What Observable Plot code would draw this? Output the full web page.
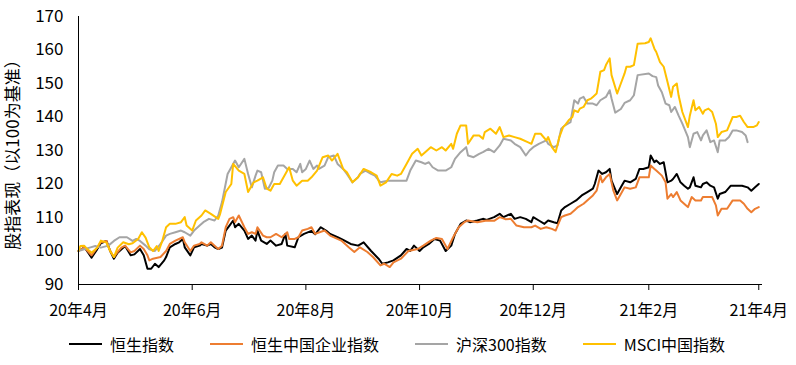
<!DOCTYPE html>
<html><head><meta charset="utf-8">
<script src="https://cdn.jsdelivr.net/npm/d3@7"></script>
<script src="https://cdn.jsdelivr.net/npm/@observablehq/plot@0.6"></script>
<style>
body{margin:0;background:#fff;font-family:"Noto Sans CJK SC","Noto Sans",sans-serif;}
#legend{position:relative;height:38px;display:flex;align-items:center;padding-left:69px;gap:36px;font-size:16px;color:#000;}
.item{display:flex;align-items:center;gap:8px;}
.sw{width:33px;height:0;border-top:2.5px solid #000;}
</style></head>
<body><div id="chart"></div><div id="legend"></div>
<script>
const seriesNames = ["恒生指数","恒生中国企业指数","沪深300指数","MSCI中国指数"];
const seriesColors = ["#000000","#ED7D31","#A5A5A5","#FFC000"];
const yTitle = "股指表现（以100为基准）";
const xTicks = ["2020-04-15","2020-06-15","2020-08-15","2020-10-15","2020-12-15","2021-02-15","2021-04-15"];
const yTicks = [90,100,110,120,130,140,150,160,170];

const hsi = [["2020-04-15",100],["2020-04-18",101],["2020-04-19",100.5],["2020-04-22",98],["2020-04-25",100.5],["2020-04-27",102.3],["2020-04-30",103],["2020-05-02",100],["2020-05-04",97.7],["2020-05-06",99.5],["2020-05-10",101.5],["2020-05-13",98.7],["2020-05-15",99],["2020-05-18",100.6],["2020-05-20",98.7],["2020-05-22",94.7],["2020-05-24",94.7],["2020-05-26",96.2],["2020-05-28",95.2],["2020-05-31",97.2],["2020-06-01",98.2],["2020-06-03",101.1],["2020-06-06",102.1],["2020-06-08",102.6],["2020-06-10",103.6],["2020-06-11",101.1],["2020-06-14",98.7],["2020-06-16",101.1],["2020-06-19",101.6],["2020-06-20",102.1],["2020-06-23",101.6],["2020-06-25",102.1],["2020-06-27",101.1],["2020-06-29",100.6],["2020-07-01",101],["2020-07-03",106.1],["2020-07-05",107.6],["2020-07-07",109.1],["2020-07-08",107.1],["2020-07-10",108.1],["2020-07-13",106.1],["2020-07-15",103.6],["2020-07-17",104.6],["2020-07-19",103.1],["2020-07-20",106.1],["2020-07-22",103.1],["2020-07-25",102.1],["2020-07-27",103.1],["2020-07-30",101.6],["2020-08-02",102.1],["2020-08-04",105.1],["2020-08-05",101.6],["2020-08-09",101.1],["2020-08-11",104.1],["2020-08-14",105.1],["2020-08-18",106],["2020-08-20",105],["2020-08-23",107.1],["2020-08-26",106],["2020-08-28",105.1],["2020-09-01",104.1],["2020-09-04",103.3],["2020-09-08",102.1],["2020-09-12",101.6],["2020-09-15",102.6],["2020-09-19",100],["2020-09-23",97.7],["2020-09-25",96.2],["2020-09-28",96.6],["2020-10-01",97.2],["2020-10-05",98.7],["2020-10-08",100.6],["2020-10-10",100],["2020-10-12",101.6],["2020-10-15",100],["2020-10-17",101.1],["2020-10-20",102.1],["2020-10-23",103.6],["2020-10-26",103.1],["2020-10-29",100],["2020-11-01",101.6],["2020-11-03",105.1],["2020-11-06",108.1],["2020-11-09",109.1],["2020-11-11",108.6],["2020-11-15",109.1],["2020-11-18",109.6],["2020-11-20",109.3],["2020-11-24",110.1],["2020-11-27",111.1],["2020-11-29",110.1],["2020-12-03",111.1],["2020-12-05",109.6],["2020-12-08",110.1],["2020-12-11",109.6],["2020-12-14",108.6],["2020-12-15",110.1],["2020-12-18",109.1],["2020-12-21",108.1],["2020-12-23",109.1],["2020-12-26",108.6],["2020-12-28",108.3],["2020-12-30",112.1],["2021-01-01",113.1],["2021-01-04",114.1],["2021-01-07",115.1],["2021-01-10",116.6],["2021-01-13",117.6],["2021-01-16",118.6],["2021-01-17",120],["2021-01-19",124],["2021-01-21",123],["2021-01-23",123.5],["2021-01-25",124.5],["2021-01-26",121],["2021-01-29",117],["2021-01-31",119],["2021-02-02",121],["2021-02-05",120.5],["2021-02-08",121.5],["2021-02-10",124.5],["2021-02-12",124.5],["2021-02-15",125],["2021-02-16",128.5],["2021-02-18",126.5],["2021-02-19",127],["2021-02-21",126],["2021-02-23",126.5],["2021-02-25",120.5],["2021-02-27",121],["2021-02-28",121.5],["2021-03-02",123],["2021-03-04",120.5],["2021-03-06",119.5],["2021-03-08",118.6],["2021-03-09",119],["2021-03-11",122],["2021-03-12",119.5],["2021-03-15",119],["2021-03-16",120],["2021-03-18",120.5],["2021-03-20",119.5],["2021-03-22",119],["2021-03-24",115.6],["2021-03-25",117],["2021-03-28",117.6],["2021-03-31",119.5],["2021-04-03",119.5],["2021-04-06",119.5],["2021-04-09",119],["2021-04-11",118],["2021-04-13",119],["2021-04-15",120]];

const hscei = [["2020-04-15",100],["2020-04-18",101],["2020-04-19",100.5],["2020-04-22",98.7],["2020-04-25",101],["2020-04-27",102.6],["2020-04-30",103],["2020-05-02",100],["2020-05-04",98.2],["2020-05-06",99.7],["2020-05-08",101],["2020-05-10",101.6],["2020-05-13",99.6],["2020-05-15",100],["2020-05-18",101.6],["2020-05-20",100.6],["2020-05-22",98.7],["2020-05-23",97.2],["2020-05-25",97.7],["2020-05-29",98.2],["2020-06-01",100],["2020-06-03",102.1],["2020-06-06",103.1],["2020-06-10",104.1],["2020-06-11",102.6],["2020-06-14",100],["2020-06-16",101.6],["2020-06-19",102.1],["2020-06-20",102.6],["2020-06-23",101.6],["2020-06-25",102.6],["2020-06-27",101.6],["2020-06-29",100.6],["2020-07-01",101.6],["2020-07-03",107.1],["2020-07-05",109.6],["2020-07-07",110.1],["2020-07-08",108.6],["2020-07-10",110.6],["2020-07-13",107.1],["2020-07-15",105.1],["2020-07-17",105.6],["2020-07-19",105.1],["2020-07-20",107.1],["2020-07-23",104.6],["2020-07-25",104.1],["2020-07-27",104.1],["2020-07-30",105.1],["2020-08-02",104.1],["2020-08-05",105.6],["2020-08-06",103.6],["2020-08-09",103.6],["2020-08-11",104.1],["2020-08-13",106.1],["2020-08-16",106.6],["2020-08-18",107.1],["2020-08-20",105.1],["2020-08-25",106.1],["2020-08-28",104.6],["2020-09-03",103.1],["2020-09-07",101.1],["2020-09-10",99.7],["2020-09-13",101.1],["2020-09-17",99.7],["2020-09-20",98.2],["2020-09-24",95.7],["2020-09-26",96.2],["2020-09-29",95.2],["2020-10-01",96.6],["2020-10-05",97.7],["2020-10-09",100],["2020-10-14",100.6],["2020-10-17",101.6],["2020-10-21",103.1],["2020-10-24",103.9],["2020-10-27",103.6],["2020-10-30",100.6],["2020-11-02",104.1],["2020-11-05",107.1],["2020-11-08",108.6],["2020-11-10",109.1],["2020-11-15",108.6],["2020-11-20",109.1],["2020-11-24",109],["2020-11-27",110.1],["2020-11-30",109.5],["2020-12-03",109.6],["2020-12-06",107.6],["2020-12-10",107.1],["2020-12-14",107.1],["2020-12-16",107.6],["2020-12-19",106.6],["2020-12-22",107.1],["2020-12-25",106.6],["2020-12-27",106.1],["2020-12-30",110.1],["2021-01-01",110.6],["2021-01-04",111.1],["2021-01-06",112.1],["2021-01-08",113.1],["2021-01-11",114.1],["2021-01-14",115.6],["2021-01-16",116.6],["2021-01-18",118],["2021-01-20",122.5],["2021-01-21",120.5],["2021-01-23",122],["2021-01-25",123],["2021-01-27",118],["2021-01-29",115.1],["2021-01-31",117],["2021-02-02",119],["2021-02-05",118.6],["2021-02-08",119],["2021-02-10",122],["2021-02-15",122],["2021-02-16",125.5],["2021-02-18",124.5],["2021-02-19",124],["2021-02-22",122.5],["2021-02-24",120.5],["2021-02-25",115.6],["2021-02-27",117],["2021-02-28",116.1],["2021-03-02",117.6],["2021-03-04",115.1],["2021-03-07",113.6],["2021-03-08",113.1],["2021-03-10",116.1],["2021-03-12",115.1],["2021-03-15",115.1],["2021-03-16",116.1],["2021-03-21",116.1],["2021-03-23",113.6],["2021-03-24",110.6],["2021-03-26",112.6],["2021-03-29",112.6],["2021-04-01",115.1],["2021-04-05",115.1],["2021-04-07",114.1],["2021-04-09",112.6],["2021-04-11",111.6],["2021-04-13",112.6],["2021-04-15",113.1]];

const csi300 = [["2020-04-15",100],["2020-04-18",100.5],["2020-04-21",101],["2020-04-24",101.5],["2020-04-27",101],["2020-05-01",101.6],["2020-05-04",103],["2020-05-07",104.1],["2020-05-11",104.1],["2020-05-14",103],["2020-05-16",103.6],["2020-05-18",103],["2020-05-21",101.6],["2020-05-23",100.5],["2020-05-26",100],["2020-05-29",102.1],["2020-06-01",104.6],["2020-06-03",105.1],["2020-06-06",105.6],["2020-06-09",106.1],["2020-06-11",105.6],["2020-06-14",104.6],["2020-06-16",106.1],["2020-06-19",107.6],["2020-06-21",108.6],["2020-06-24",109.6],["2020-06-27",109.1],["2020-06-29",110.6],["2020-07-01",114.6],["2020-07-04",123],["2020-07-06",125],["2020-07-08",127],["2020-07-10",125],["2020-07-13",127.5],["2020-07-15",123],["2020-07-17",119],["2020-07-19",122.5],["2020-07-20",124],["2020-07-22",123.5],["2020-07-24",118.6],["2020-07-26",118.8],["2020-07-28",121],["2020-07-29",123.5],["2020-07-31",125.5],["2020-08-03",125.5],["2020-08-05",124.5],["2020-08-08",124.5],["2020-08-10",123.5],["2020-08-12",126],["2020-08-13",123.5],["2020-08-15",124.5],["2020-08-17",127],["2020-08-19",124.5],["2020-08-21",125.5],["2020-08-22",124.5],["2020-08-25",125.5],["2020-08-27",128],["2020-08-30",128.5],["2020-09-01",126],["2020-09-04",124.5],["2020-09-06",123],["2020-09-09",120.5],["2020-09-12",122],["2020-09-13",123],["2020-09-16",124],["2020-09-19",123],["2020-09-21",122.5],["2020-09-24",120.5],["2020-09-28",121],["2020-10-08",121],["2020-10-10",124],["2020-10-13",127],["2020-10-16",126.5],["2020-10-18",126],["2020-10-20",126.5],["2020-10-22",125],["2020-10-25",124],["2020-10-29",124],["2020-11-01",125],["2020-11-03",127.5],["2020-11-06",129.5],["2020-11-09",131],["2020-11-10",128.5],["2020-11-13",128],["2020-11-16",129],["2020-11-18",129.5],["2020-11-21",130.5],["2020-11-24",129.5],["2020-11-27",131.5],["2020-11-29",133.5],["2020-12-03",133],["2020-12-05",132],["2020-12-08",131],["2020-12-11",128.5],["2020-12-13",130],["2020-12-15",131],["2020-12-18",132],["2020-12-22",133],["2020-12-23",132],["2020-12-26",131],["2020-12-28",131.5],["2020-12-30",136.5],["2021-01-01",137.5],["2021-01-04",138.5],["2021-01-06",145],["2021-01-08",144],["2021-01-09",145.5],["2021-01-11",146],["2021-01-13",144],["2021-01-16",144],["2021-01-18",143.5],["2021-01-20",145],["2021-01-23",146],["2021-01-25",148],["2021-01-26",145.5],["2021-01-28",141.3],["2021-01-31",142.4],["2021-02-02",144.2],["2021-02-05",145],["2021-02-07",146.5],["2021-02-09",152.5],["2021-02-15",153],["2021-02-17",152.2],["2021-02-19",151.9],["2021-02-20",149.4],["2021-02-22",147.4],["2021-02-24",144],["2021-02-26",143.5],["2021-02-27",141.5],["2021-03-01",143],["2021-03-03",140.4],["2021-03-05",138],["2021-03-08",134],["2021-03-09",131],["2021-03-11",135],["2021-03-13",135.5],["2021-03-15",133],["2021-03-16",134.5],["2021-03-18",136],["2021-03-20",132.5],["2021-03-22",133],["2021-03-24",129.5],["2021-03-25",133],["2021-03-28",133],["2021-03-30",134],["2021-04-01",136],["2021-04-03",136],["2021-04-06",135.5],["2021-04-08",134.5],["2021-04-09",132.5]];

const msci = [["2020-04-15",100],["2020-04-16",101.5],["2020-04-18",101.6],["2020-04-19",101],["2020-04-22",99.5],["2020-04-25",101],["2020-04-27",103.1],["2020-04-30",102.5],["2020-05-02",100],["2020-05-04",98.2],["2020-05-06",101],["2020-05-09",102.6],["2020-05-12",102],["2020-05-14",102.3],["2020-05-17",103.6],["2020-05-19",105.6],["2020-05-21",104],["2020-05-23",101.1],["2020-05-25",100],["2020-05-27",101.5],["2020-05-28",100],["2020-05-30",103.1],["2020-06-01",107.1],["2020-06-03",108.1],["2020-06-06",108.1],["2020-06-09",108.6],["2020-06-11",110.1],["2020-06-12",107.6],["2020-06-15",106.1],["2020-06-17",109.1],["2020-06-20",110.6],["2020-06-22",112.1],["2020-06-25",111.1],["2020-06-29",109.6],["2020-06-30",111.1],["2020-07-03",117.6],["2020-07-06",120],["2020-07-07",126],["2020-07-10",124],["2020-07-13",123],["2020-07-15",117.6],["2020-07-18",120.5],["2020-07-20",121],["2020-07-23",122],["2020-07-25",118.6],["2020-07-27",118],["2020-07-29",120],["2020-08-01",120],["2020-08-04",123],["2020-08-06",125],["2020-08-08",121],["2020-08-10",119.5],["2020-08-13",121],["2020-08-16",121],["2020-08-18",122],["2020-08-21",124],["2020-08-24",128],["2020-08-27",128.5],["2020-08-29",127],["2020-09-01",129],["2020-09-04",124.5],["2020-09-06",123.5],["2020-09-09",120.5],["2020-09-12",122],["2020-09-15",124.5],["2020-09-19",123.5],["2020-09-22",122.5],["2020-09-24",119.5],["2020-09-27",120.5],["2020-09-30",123],["2020-10-03",122.5],["2020-10-05",123],["2020-10-08",126],["2020-10-11",129],["2020-10-14",130.5],["2020-10-16",128.5],["2020-10-18",129.5],["2020-10-21",131],["2020-10-24",130],["2020-10-27",131],["2020-10-29",130],["2020-11-01",132],["2020-11-02",130.5],["2020-11-04",135],["2020-11-06",137.5],["2020-11-09",137.5],["2020-11-10",132],["2020-11-13",134.5],["2020-11-16",134.5],["2020-11-18",133.5],["2020-11-19",135.5],["2020-11-22",136.5],["2020-11-25",135],["2020-11-27",137],["2020-11-29",134],["2020-12-02",134.5],["2020-12-05",134],["2020-12-08",133.5],["2020-12-12",132.5],["2020-12-14",132],["2020-12-16",135],["2020-12-19",135],["2020-12-22",133],["2020-12-23",134],["2020-12-25",131],["2020-12-27",129.5],["2020-12-29",134],["2020-12-31",137],["2021-01-01",137.5],["2021-01-03",139],["2021-01-05",140],["2021-01-06",142],["2021-01-08",141.5],["2021-01-09",142.5],["2021-01-11",143],["2021-01-13",145],["2021-01-15",145.5],["2021-01-16",146],["2021-01-18",147],["2021-01-20",153.5],["2021-01-22",154],["2021-01-23",155.5],["2021-01-25",157.5],["2021-01-26",152.5],["2021-01-29",147],["2021-01-31",150],["2021-02-02",153],["2021-02-03",155],["2021-02-05",155],["2021-02-07",155.5],["2021-02-09",161.9],["2021-02-13",162],["2021-02-15",162.4],["2021-02-16",163.5],["2021-02-18",160.4],["2021-02-19",159.4],["2021-02-21",156.4],["2021-02-23",155],["2021-02-25",150.5],["2021-02-27",146],["2021-02-28",149],["2021-03-02",150],["2021-03-03",146.4],["2021-03-05",141.5],["2021-03-08",137],["2021-03-09",140.4],["2021-03-11",145],["2021-03-12",142],["2021-03-14",143],["2021-03-16",141],["2021-03-17",142],["2021-03-19",142.5],["2021-03-21",141.5],["2021-03-23",138],["2021-03-24",134],["2021-03-26",135.5],["2021-03-29",136],["2021-04-01",140],["2021-04-03",140],["2021-04-05",140.4],["2021-04-07",138.5],["2021-04-09",137],["2021-04-12",137],["2021-04-14",137.5],["2021-04-15",138.5]];

const allSeries = [hsi, hscei, csi300, msci];
const parse = s => new Date(s + "T00:00:00Z");
const tickFmt = d => `${String(d.getUTCFullYear()).slice(2)}年${d.getUTCMonth()+1}月`;
const font = '"Noto Sans CJK SC","Noto Sans",sans-serif';

const lineMarks = allSeries.map((s, i) => Plot.line(s.map(([d, v]) => ({date: parse(d), value: v})), {
  x: "date", y: "value", stroke: seriesColors[i], strokeWidth: 2, strokeLinejoin: "round"
}));

const chart = Plot.plot({
  width: 796, height: 325,
  marginLeft: 78, marginRight: 34, marginTop: 16, marginBottom: 41,
  style: {fontFamily: font, color: "#000", background: "#fff"},
  x: {type: "utc", domain: [parse("2020-04-15"), parse("2021-04-17")]},
  y: {domain: [90, 170]},
  marks: [
    Plot.axisY({ticks: yTicks, tickSize: 0, tickPadding: 15, fontSize: 17, label: yTitle, labelAnchor: "center", labelArrow: "none", labelOffset: 72}),
    Plot.axisX({ticks: xTicks.map(parse), tickFormat: tickFmt, tickSize: 6, tickPadding: 14, fontSize: 16, label: null, stroke: "#000"}),
    ...lineMarks,
    Plot.ruleY([90], {stroke: "#000", strokeWidth: 1}),
    Plot.ruleX([parse("2020-04-15")], {stroke: "#000", strokeWidth: 1})
  ]
});
document.getElementById("chart").appendChild(chart);

const legend = document.getElementById("legend");
seriesNames.forEach((n, i) => {
  const it = document.createElement("div"); it.className = "item";
  const sw = document.createElement("div"); sw.className = "sw"; sw.style.borderTopColor = seriesColors[i];
  const tx = document.createElement("span"); tx.textContent = n;
  it.appendChild(sw); it.appendChild(tx); legend.appendChild(it);
});
</script></body></html>
